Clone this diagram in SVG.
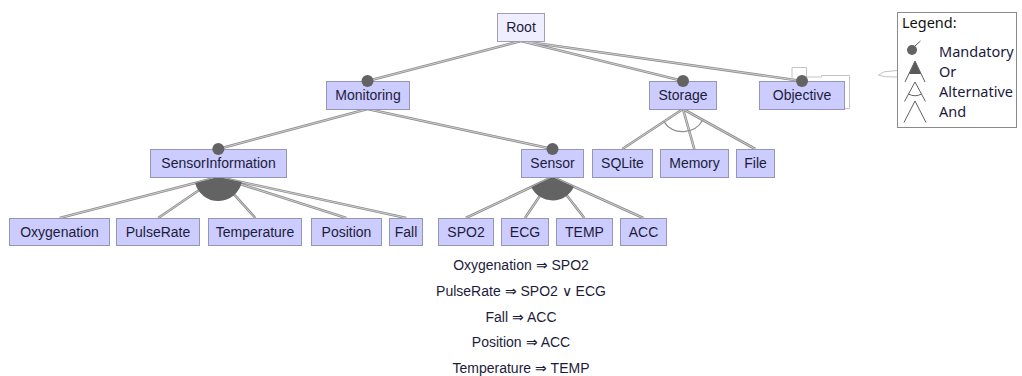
<svg xmlns="http://www.w3.org/2000/svg" width="1022" height="376" viewBox="0 0 1022 376">
  <style>
    .box { fill: #ccccff; stroke: #9595b5; stroke-width: 1; }
    .root { fill: #eeeeff; stroke: #a0a0b4; stroke-width: 1; }
    .label { font-family: "Liberation Sans", Arial, sans-serif; font-size: 14px; fill: #1c1c3a; text-anchor: middle; }
    .edge-out { fill: none; stroke: #8e8e8e; stroke-width: 2.6; }
    .edge-in { fill: none; stroke: #dedede; stroke-width: 0.8; }
    .dot { fill: #636363; }
    .group-or { fill: #636363; }
    .group-alt { fill: none; stroke: #8e8e8e; stroke-width: 1.2; }
    .note { fill: none; stroke: #c4c4c4; stroke-width: 1; }
    .legend-box { fill: #ffffff; stroke: #8a8a8a; stroke-width: 1; }
    .legend-text { font-family: "Noto Sans", "Liberation Sans", sans-serif; font-size: 14.5px; fill: #1a1a3c; }
    .legend-icon { fill: none; stroke: #606060; stroke-width: 1; }
    .constraint { font-family: "Liberation Sans", Arial, sans-serif; font-size: 14px; fill: #1c1c3a; text-anchor: middle; }
  </style>

  <defs>
    <!-- every parent-child link in one path, stroked twice for the double-line look -->
    <path id="links" d="
      M521,41 L367.5,81 M521,41 L683,81 M521,41 L802,81
      M367.5,109 L218.3,149 M367.5,109 L552.5,149
      M683,109 L622.3,149 M683,109 L694.3,149 M683,109 L755.3,149
      M218.3,177 L59.7,218 M218.3,177 L158.2,218 M218.3,177 L255.3,218 M218.3,177 L346.3,218 M218.3,177 L406.3,218
      M552.5,177 L465.8,218 M552.5,177 L525,218 M552.5,177 L584.3,218 M552.5,177 L643.3,218"/>
  </defs>

  <g id="connectors">
    <use href="#links" class="edge-out"/>
    <use href="#links" class="edge-in"/>
    <!-- Or groups -->
    <path class="group-or" d="M218.3,177 L241.8,182.1 A24,24 0 0,1 195.1,183 Z"/>
    <path class="group-or" d="M552.5,177 L573.9,186.7 A23.5,23.5 0 0,1 531.3,187 Z"/>
    <!-- Alternative group under Storage -->
    <path class="group-alt" d="M702.8,120 A23,23 0 0,1 663.8,121.6"/>
  </g>

  <!-- comment shape attached to Objective -->
  <polyline class="note" points="792,80 792,67.5 806.5,67.5 806.5,77 821.5,77 821.5,75.5 849.5,75.5 849.5,108.5 844,108.5"/>
  <polyline class="note" points="897,70.5 884,71.8 878.5,75 884,76.6 897,77"/>

  <g id="node-root">
    <rect class="root" x="497.5" y="13.5" width="47" height="28"/>
    <text class="label" x="521" y="32">Root</text>
  </g>

  <g id="node-monitoring">
    <rect class="box" x="326.5" y="81.5" width="83" height="28"/>
    <text class="label" x="368" y="100">Monitoring</text>
    <circle class="dot" cx="367.5" cy="81" r="6"/>
  </g>

  <g id="node-storage">
    <rect class="box" x="649.5" y="81.5" width="67" height="28"/>
    <text class="label" x="683" y="100">Storage</text>
    <circle class="dot" cx="683" cy="81" r="6"/>
  </g>

  <g id="node-objective">
    <rect class="box" x="759.5" y="81.5" width="85" height="28"/>
    <text class="label" x="802" y="100">Objective</text>
    <circle class="dot" cx="802" cy="81" r="6"/>
  </g>

  <g id="node-sensorinformation">
    <rect class="box" x="150.5" y="149.5" width="136" height="28"/>
    <text class="label" x="218.5" y="168">SensorInformation</text>
    <circle class="dot" cx="218.3" cy="149" r="6"/>
  </g>

  <g id="node-sensor">
    <rect class="box" x="521.5" y="149.5" width="62" height="28"/>
    <text class="label" x="552.5" y="168">Sensor</text>
    <circle class="dot" cx="552.5" cy="149" r="6"/>
  </g>

  <g id="node-sqlite">
    <rect class="box" x="592.5" y="149.5" width="60" height="28"/>
    <text class="label" x="622.5" y="168">SQLite</text>
  </g>

  <g id="node-memory">
    <rect class="box" x="660.5" y="149.5" width="68" height="28"/>
    <text class="label" x="694.5" y="168">Memory</text>
  </g>

  <g id="node-file">
    <rect class="box" x="736.5" y="149.5" width="38" height="28"/>
    <text class="label" x="755.5" y="168">File</text>
  </g>

  <g id="node-oxygenation">
    <rect class="box" x="9.5" y="218.5" width="100" height="27"/>
    <text class="label" x="59.5" y="237">Oxygenation</text>
  </g>

  <g id="node-pulserate">
    <rect class="box" x="116.5" y="218.5" width="83" height="27"/>
    <text class="label" x="158" y="237">PulseRate</text>
  </g>

  <g id="node-temperature">
    <rect class="box" x="208.5" y="218.5" width="93" height="27"/>
    <text class="label" x="255" y="237">Temperature</text>
  </g>

  <g id="node-position">
    <rect class="box" x="311.5" y="218.5" width="70" height="27"/>
    <text class="label" x="346.5" y="237">Position</text>
  </g>

  <g id="node-fall">
    <rect class="box" x="389.5" y="218.5" width="33" height="27"/>
    <text class="label" x="406" y="237">Fall</text>
  </g>

  <g id="node-spo2">
    <rect class="box" x="438.5" y="218.5" width="55" height="27"/>
    <text class="label" x="466" y="237">SPO2</text>
  </g>

  <g id="node-ecg">
    <rect class="box" x="501.5" y="218.5" width="47" height="27"/>
    <text class="label" x="525" y="237">ECG</text>
  </g>

  <g id="node-temp">
    <rect class="box" x="556.5" y="218.5" width="56" height="27"/>
    <text class="label" x="584.5" y="237">TEMP</text>
  </g>

  <g id="node-acc">
    <rect class="box" x="620.5" y="218.5" width="46" height="27"/>
    <text class="label" x="643.5" y="237">ACC</text>
  </g>

  <!-- cross-tree constraints -->
  <g id="constraints">
    <text class="constraint" x="521" y="270">Oxygenation ⇒ SPO2</text>
    <text class="constraint" x="521" y="296">PulseRate ⇒ SPO2 ∨ ECG</text>
    <text class="constraint" x="521" y="322">Fall ⇒ ACC</text>
    <text class="constraint" x="521" y="347">Position ⇒ ACC</text>
    <text class="constraint" x="521" y="373">Temperature ⇒ TEMP</text>
  </g>

  <g id="legend">
    <rect class="legend-box" x="897.5" y="12.5" width="119" height="115"/>
    <text class="legend-text" x="902" y="28" style="fill:#111">Legend:</text>
    <!-- Mandatory -->
    <circle class="dot" cx="912" cy="50" r="5"/>
    <line class="legend-icon" x1="915" y1="46" x2="920.5" y2="41"/>
    <text class="legend-text" x="939" y="56.5">Mandatory</text>
    <!-- Or -->
    <path d="M915,61 L909,74 L921,74 Z" fill="#5a5a5a"/>
    <path class="legend-icon" d="M905,82 L915,61 L925,82"/>
    <text class="legend-text" x="939" y="76.5">Or</text>
    <!-- Alternative -->
    <path class="legend-icon" d="M904.5,101.5 L915,82 L925.5,101.5"/>
    <path class="legend-icon" d="M908.5,94 A13.5,13.5 0 0,0 921.5,94"/>
    <text class="legend-text" x="939" y="96.5">Alternative</text>
    <!-- And -->
    <path class="legend-icon" d="M904,122.5 L915,101 L926,122.5"/>
    <text class="legend-text" x="939" y="116.5">And</text>
  </g>
</svg>
